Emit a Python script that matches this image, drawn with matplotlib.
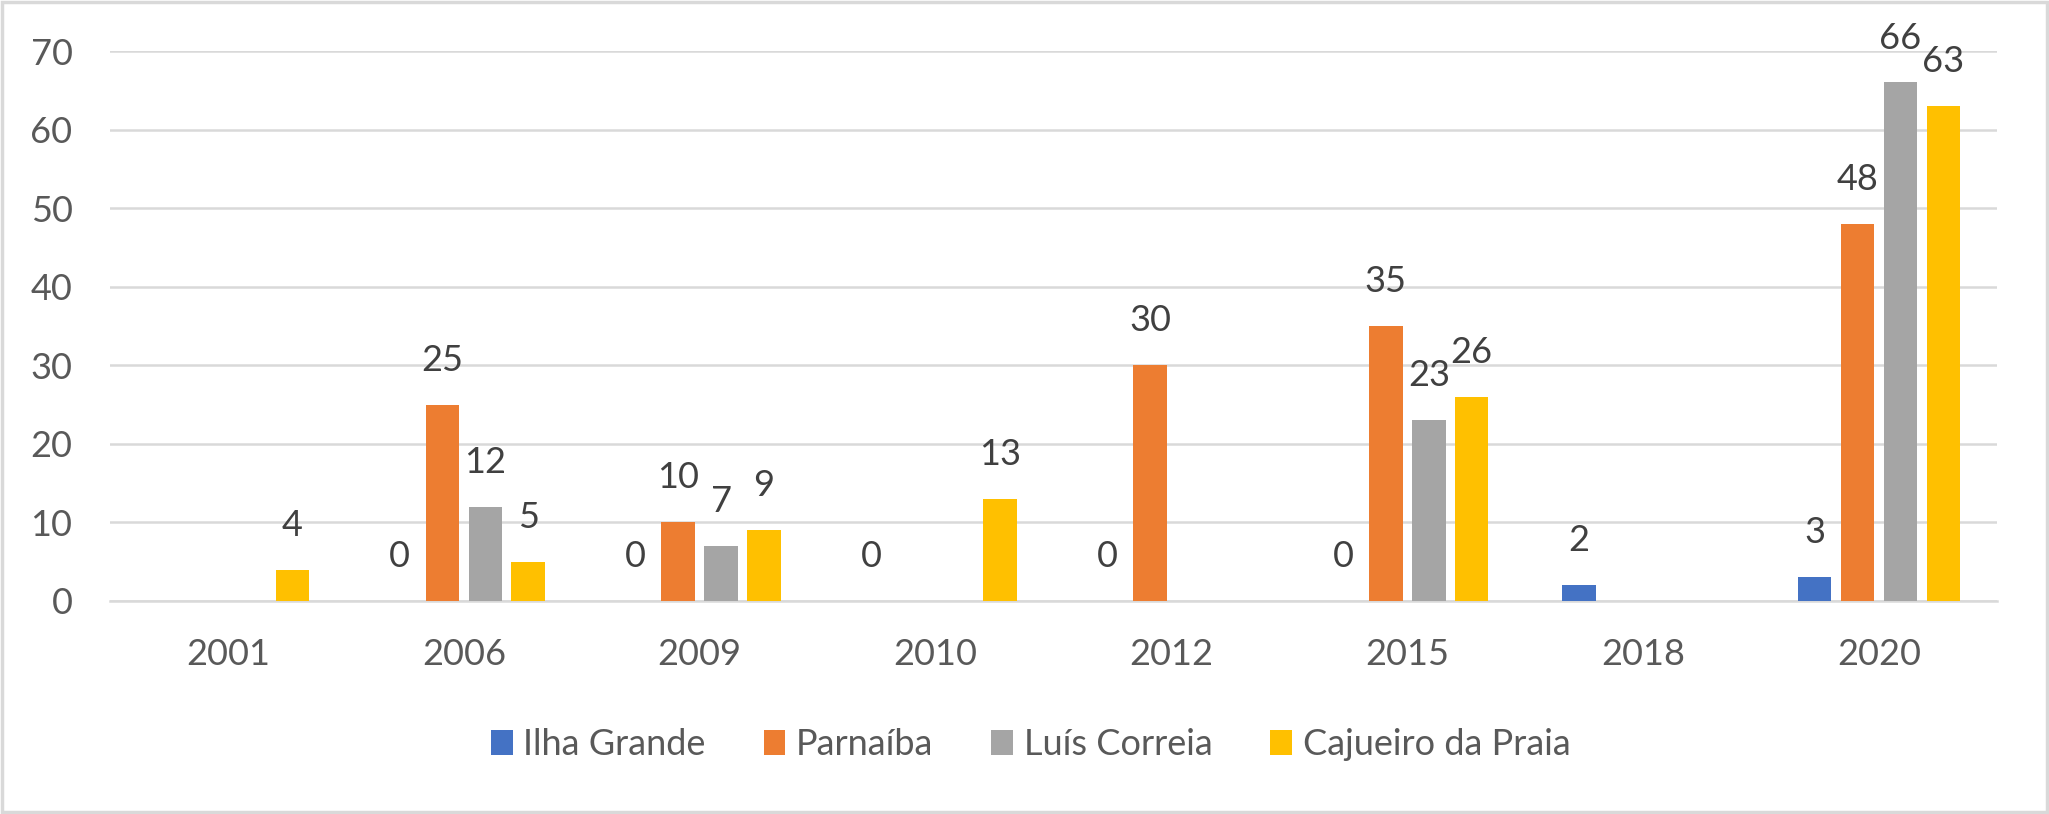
import numpy as np
import matplotlib
matplotlib.use("Agg")
import matplotlib.pyplot as plt
from matplotlib.patches import Rectangle

plt.rcParams['font.family'] = ['Lato', 'DejaVu Sans']

# ---- data ----
years = ["2001", "2006", "2009", "2010", "2012", "2015", "2018", "2020"]
ilha_grande = [None, 0, 0, 0, 0, 0, 2, 3]
parnaiba = [None, 25, 10, None, 30, 35, None, 48]
luis_correia = [None, 12, 7, None, None, 23, None, 66]
cajueiro = [4, 5, 9, 13, None, 26, None, 63]

series_names = ["Ilha Grande", "Parnaíba", "Luís Correia", "Cajueiro da Praia"]
series_vals = [ilha_grande, parnaiba, luis_correia, cajueiro]
colors = ["#4472C4", "#ED7D31", "#A5A5A5", "#FFC000"]

FS = 26

fig = plt.figure(figsize=(20.49, 8.14), dpi=100)
ax = fig.add_axes([0.0537, 0.2617, 0.9746 - 0.0537, 0.9373 - 0.2617])

x = np.arange(len(years))
step = 0.182
width = 0.142
for i, (name, vals, col) in enumerate(zip(series_names, series_vals, colors)):
    off = (i - 1.5) * step
    xs = [xi + off for xi, v in zip(x, vals) if v is not None]
    vs = [v for v in vals if v is not None]
    ax.bar(xs, vs, width=width, color=col, label=name, zorder=3)
    for xx, vv in zip(xs, vs):
        ax.annotate(str(vv), (xx, vv), xytext=(0, 32), textcoords="offset points",
                    ha="center", va="center", fontsize=FS, color="#404040")

ax.set_xlim(-0.5, len(years) - 0.5)
ax.set_ylim(0, 70)
ax.set_yticks(range(0, 71, 10))
ax.set_xticks(x)
ax.set_xticklabels(years)
ax.tick_params(axis="both", length=0, labelsize=FS, labelcolor="#595959")
ax.tick_params(axis="y", pad=27)
ax.tick_params(axis="x", pad=27)
ax.grid(axis="y", color="#D9D9D9", lw=1.8, zorder=0)
for s in ["top", "right", "left"]:
    ax.spines[s].set_visible(False)
ax.spines["bottom"].set_color("#D9D9D9")
ax.spines["bottom"].set_linewidth(1.8)

leg = fig.legend(loc="center", bbox_to_anchor=(0.503, 0.085), ncol=4, frameon=False,
                 fontsize=FS, handlelength=0.6, handleheight=0.7, handletextpad=0.3,
                 columnspacing=1.6)
for t in leg.get_texts():
    t.set_color("#595959")

fig.patches.append(Rectangle((0.001, 0.002), 0.998, 0.996, transform=fig.transFigure,
                             fill=False, edgecolor="#D9D9D9", lw=2.5))

fig.savefig("out.png", dpi=100)
